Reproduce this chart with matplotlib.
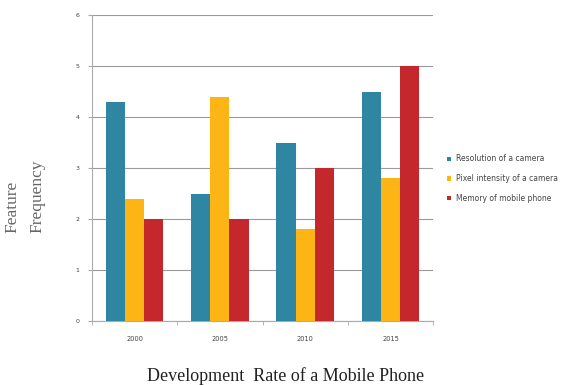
import matplotlib
matplotlib.use("Agg")
import matplotlib.pyplot as plt
import numpy as np

years = ["2000", "2005", "2010", "2015"]
series_names = ["Resolution of a camera", "Pixel intensity of a camera", "Memory of mobile phone"]
resolution = [4.3, 2.5, 3.5, 4.5]
pixel_intensity = [2.4, 4.4, 1.8, 2.8]
memory = [2.0, 2.0, 3.0, 5.0]
colors = ["#2E86A3", "#FDB515", "#C4282C"]

fig = plt.figure(figsize=(5.64, 3.85), dpi=100)
ax = fig.add_axes([0.163, 0.166, 0.605, 0.795])

x = np.arange(len(years))
w = 0.225
for i, (vals, name, c) in enumerate(zip([resolution, pixel_intensity, memory], series_names, colors)):
    ax.bar(x + (i - 1) * w, vals, width=w, color=c, label=name, zorder=3)

ax.set_xlim(-0.5, 3.5)
ax.set_ylim(0, 6)
ax.set_yticks(range(0, 7))
ax.yaxis.grid(True, color="#9a9a9a", linewidth=0.8, zorder=0)
ax.set_xticks(x)
ax.set_xticklabels(years)
ax.set_xticks(np.arange(-0.5, 4.0, 1.0), minor=True)
ax.tick_params(axis="x", which="major", length=0, labelsize=4.8, colors="#444444", pad=11)
ax.tick_params(axis="x", which="minor", length=3, color="#aaaaaa")
ax.tick_params(axis="y", length=3, color="#aaaaaa", labelsize=4.5, labelcolor="#444444", pad=6)
for s in ["top", "right"]:
    ax.spines[s].set_visible(False)
ax.spines["left"].set_color("#aaaaaa")
ax.spines["bottom"].set_color("#aaaaaa")
ax.spines["left"].set_linewidth(0.8)
ax.spines["bottom"].set_linewidth(0.8)

leg = fig.legend(loc="center left", bbox_to_anchor=(0.792, 0.536), frameon=False,
                 fontsize=5.5, handlelength=0.5, handleheight=0.5, handletextpad=0.7,
                 labelspacing=1.4, borderpad=0, borderaxespad=0)
for t in leg.get_texts():
    t.set_color("#444444")

fig.text(0.044, 0.49, "Feature\nFrequency", rotation=90, ha="center", va="center",
         family="Liberation Serif", fontsize=12.5, color="#666666", linespacing=1.75,
         multialignment="left")
fig.text(0.507, 0.023, "Development  Rate of a Mobile Phone", ha="center", va="center",
         family="Liberation Serif", fontsize=13, color="#222222")

fig.savefig("out.png", dpi=100)
